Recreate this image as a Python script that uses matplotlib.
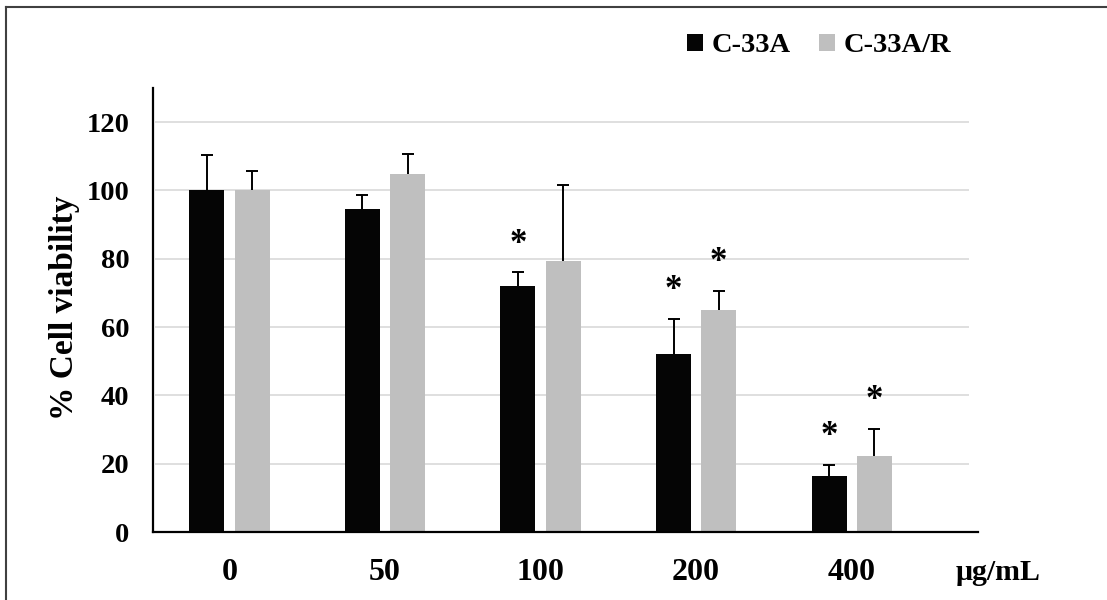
import matplotlib
matplotlib.use("Agg")
import matplotlib.pyplot as plt
from matplotlib.lines import Line2D
from matplotlib.patches import Patch
import numpy as np

# data
doses = ["0", "50", "100", "200", "400"]
c33a = [100, 94.6, 72.0, 52.1, 16.5]
c33a_err = [10.3, 4.0, 4.0, 10.4, 3.2]
c33ar = [100, 104.8, 79.3, 65.0, 22.3]
c33ar_err = [5.6, 5.8, 22.3, 5.6, 7.8]
c33a_sig = [False, False, True, True, True]
c33ar_sig = [False, False, False, True, True]
y_ticks = [0, 20, 40, 60, 80, 100, 120]

BLACK = "#050505"
GREY = "#bfbfbf"
FONT = "Liberation Serif"
FS = 20.5


def draw_series(ax, xs, vals, errs, sig, color):
    ax.bar(xs, vals, 0.225, color=color, zorder=2)
    # upper error bars only, no cap at the bar top
    _, caps, _ = ax.errorbar(xs, vals, yerr=[np.zeros(len(vals)), errs], fmt="none",
                             ecolor="black", elinewidth=1.4, capsize=4, capthick=1.4,
                             zorder=3)
    caps[0].set_visible(False)
    for xi, v, e, s in zip(xs, vals, errs, sig):
        if s:
            ax.text(xi, v + e + 5.8, "*", ha="center", va="baseline",
                    fontsize=25, fontweight="bold")


def main():
    plt.rcParams["font.family"] = [FONT, "DejaVu Serif"]
    plt.rcParams["font.weight"] = "bold"

    fig = plt.figure(figsize=(11.07, 6.0), dpi=100)
    ax = fig.add_axes([153 / 1107, 1 - 532 / 600, 825 / 1107, 444 / 600])

    x = np.arange(len(doses))
    offset = 0.145
    draw_series(ax, x - offset, c33a, c33a_err, c33a_sig, BLACK)
    draw_series(ax, x + offset, c33ar, c33ar_err, c33ar_sig, GREY)

    ax.set_xlim(-0.492, 4.813)
    ax.set_ylim(0, 130)
    ax.hlines(y_ticks[1:], -0.48, 4.756, color="#d9d9d9", linewidth=1.2, zorder=1)

    ax.set_yticks(y_ticks)
    ax.set_yticklabels([str(t) for t in y_ticks], fontsize=FS, fontweight="bold")
    ax.set_xticks(x)
    ax.set_xticklabels(doses, fontsize=23, fontweight="bold")
    ax.tick_params(axis="y", length=0, pad=17)
    ax.tick_params(axis="x", length=0, pad=19)

    for side in ["top", "right"]:
        ax.spines[side].set_visible(False)
    ax.spines["left"].set_linewidth(1.6)
    ax.spines["bottom"].set_linewidth(1.6)

    fig.text(64 / 1107, 1 - 308 / 600, "% Cell viability", rotation=90,
             ha="center", va="center", fontsize=24, fontweight="bold")
    fig.text(998 / 1107, 1 - 572 / 600, "\u03bcg/mL", ha="center", va="center",
             fontsize=21.5, fontweight="bold")

    handles = [Patch(facecolor=BLACK), Patch(facecolor=GREY)]
    fig.legend(handles, ["C-33A", "C-33A/R"], ncol=2, frameon=False,
               loc="center", bbox_to_anchor=(819 / 1107, 1 - 46 / 600),
               handlelength=0.56, handleheight=0.56, handletextpad=0.3,
               columnspacing=1.0, prop={"family": FONT, "size": FS, "weight": "bold"})

    # outer frame (left and top edges visible in the reference crop)
    fig.add_artist(Line2D([6 / 1107, 6 / 1107], [0, 1 - 7 / 600],
                          transform=fig.transFigure, color="#404040", linewidth=1.5))
    fig.add_artist(Line2D([6 / 1107, 1], [1 - 7 / 600, 1 - 7 / 600],
                          transform=fig.transFigure, color="#404040", linewidth=1.5))

    fig.savefig("out.png", dpi=100)


if __name__ == "__main__":
    main()
